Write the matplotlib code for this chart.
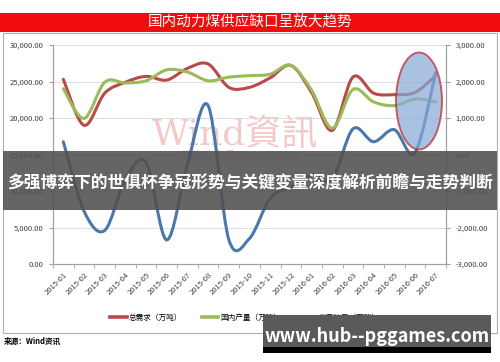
import numpy as np
import matplotlib
matplotlib.use("Agg")
import matplotlib.pyplot as plt
from matplotlib.path import Path
from matplotlib.patches import PathPatch, Rectangle, Ellipse
from matplotlib.lines import Line2D

plt.rcParams['font.family'] = ['Noto Sans CJK SC', 'DejaVu Sans']

months = ["2015-01", "2015-02", "2015-03", "2015-04", "2015-05", "2015-06",
          "2015-07", "2015-08", "2015-09", "2015-10", "2015-11", "2015-12",
          "2016-01", "2016-02", "2016-03", "2016-04", "2016-05", "2016-06",
          "2016-07"]
demand = [25300, 19000, 23400, 24900, 25700, 25200, 26800, 27400, 24200, 24200,
          25500, 27200, 23500, 18300, 25600, 23400, 23200, 23500, 25800]
output = [24000, 19950, 24900, 24800, 25100, 26600, 26300, 25100, 25600, 25800,
          26000, 27200, 23800, 18600, 23900, 22200, 21700, 22600, 22200]
gap = [350, -1550, -2080, -680, -220, -2340, -270, 1340, -2330, -2300,
       -1200, -900, -570, -680, 700, 350, 680, 50, 2240]

left_ticks = [0, 5000, 10000, 15000, 20000, 25000, 30000]
right_ticks = [-3000, -2000, -1000, 0, 1000, 2000, 3000]
legend_labels = ["总需求（万吨）", "国内产量（万吨）", "供需缺口（万吨）"]
colors = ["#b84a47", "#9bbb59", "#4a78ad"]


def smooth_path(xs, ys):
    # Excel-like smoothed line as cubic bezier segments
    pts = np.column_stack([xs, ys]).astype(float)
    verts = [pts[0]]
    codes = [Path.MOVETO]
    n = len(pts)
    for i in range(n - 1):
        p0 = pts[i - 1] if i > 0 else pts[i]
        p1 = pts[i]
        p2 = pts[i + 1]
        p3 = pts[i + 2] if i + 2 < n else pts[i + 1]
        c1 = p1 + (p2 - p0) / 6.0
        c2 = p2 - (p3 - p1) / 6.0
        verts += [c1, c2, p2]
        codes += [Path.CURVE4] * 3
    return Path(verts, codes)


fig = plt.figure(figsize=(5.0, 3.62), dpi=100)
fig.patch.set_facecolor("white")

# red title banner
fig.patches.append(Rectangle((0, 1 - 32 / 362), 1, 19 / 362, transform=fig.transFigure,
                             facecolor="#f20d0d", edgecolor="none", zorder=-2))
fig.text(0.5, 1 - 22.5 / 362, "国内动力煤供应缺口呈放大趋势", color="white",
         fontsize=10.5, ha="center", va="center")
# chart frame
fig.patches.append(Rectangle((3 / 500, 1 - 333 / 362), 494 / 500, 300 / 362,
                             transform=fig.transFigure, facecolor="white",
                             edgecolor="#b0b0b0", lw=0.8, zorder=-2))

# watermark
fig.text(235 / 500, 1 - 135 / 362, "Wind資訊", color="#f3c9c9", fontsize=26,
         ha="center", va="center", family=["DejaVu Serif", "Noto Sans CJK SC"], zorder=-1)
fig.text(240 / 500, 1 - 156 / 362, "微信公众号ID:windzxsh", color="#e8c0c0", fontsize=8,
         ha="center", va="center", zorder=-1)

ax = fig.add_axes([53 / 500, 1 - 264 / 362, 393 / 500, 219 / 362])
ax2 = ax.twinx()
ax.set_zorder(2)
ax2.set_zorder(3)
ax.patch.set_visible(False)
ax2.patch.set_visible(False)
x = np.arange(len(months))

ax.add_patch(PathPatch(smooth_path(x, demand), facecolor="none", edgecolor=colors[0],
                       lw=2.2, capstyle="round", zorder=3))
ax.add_patch(PathPatch(smooth_path(x, output), facecolor="none", edgecolor=colors[1],
                       lw=2.2, capstyle="round", zorder=3))
ax2.add_patch(PathPatch(smooth_path(x, gap), facecolor="none", edgecolor=colors[2],
                        lw=2.2, capstyle="round", zorder=3))

ax.set_xlim(-0.5, len(months) - 0.5)
ax.set_ylim(0, 30000)
ax2.set_ylim(-3000, 3000)
ax.set_yticks(left_ticks)
ax.set_yticklabels([f"{v:,.2f}" for v in left_ticks])
ax2.set_yticks(right_ticks)
ax2.set_yticklabels([f"{v:,.2f}" for v in right_ticks])
ax.set_xticks(x)
ax.set_xticklabels(months, rotation=45, ha="right", rotation_mode="anchor")
ax.set_xticks(np.arange(len(months) + 1) - 0.5, minor=True)
ax.tick_params(axis="x", which="major", length=0, labelsize=5.5, colors="#404040", pad=5)
ax.tick_params(axis="x", which="minor", length=3, color="#a0a0a0")
ax.tick_params(axis="y", length=3, labelsize=5.5, colors="#404040", color="#a0a0a0", pad=4)
ax2.tick_params(axis="y", length=3, labelsize=5.5, colors="#404040", color="#a0a0a0", pad=4)
ax.grid(axis="y", color="#d9d9d9", lw=0.6)
ax.set_axisbelow(True)
for a in (ax, ax2):
    a.spines["top"].set_visible(False)
    for s in ("left", "right", "bottom"):
        a.spines[s].set_color("#a0a0a0")
        a.spines[s].set_linewidth(0.8)

# highlight ellipse
fig.patches.append(Ellipse((419 / 500, 1 - 101 / 362), 46 / 500, 97 / 362,
                           transform=fig.transFigure, facecolor="#87a9d6", alpha=0.7,
                           edgecolor="#c0202a", lw=1.4, zorder=5))

# legend
handles = [Line2D([], [], color=c, lw=2.6) for c in colors]
fig.legend(handles, legend_labels, loc="center", bbox_to_anchor=(0.49, 1 - 318 / 362),
           ncol=3, frameon=False, fontsize=5.5, handlelength=2.2, columnspacing=2.6,
           handletextpad=0.2)

fig.text(4 / 500, 1 - 341 / 362, "来源：Wind资讯", fontsize=5.5, color="black",
         ha="left", va="center", fontweight="bold")

# overlay band with headline
fig.patches.append(Rectangle((3 / 500, 1 - 210 / 362), 494 / 500, 59 / 362,
                             transform=fig.transFigure, facecolor="#505050", alpha=0.88,
                             edgecolor="none", zorder=10))
fig.text(0.5, 1 - 183 / 362, "多强博弈下的世俱杯争冠形势与关键变量深度解析前瞻与走势判断",
         color="white", fontsize=12.1, fontweight="bold", ha="center", va="center", zorder=11)

# bottom-right site box
fig.patches.append(Rectangle((263 / 500, 1 - 347 / 362), 228 / 500, 32 / 362,
                             transform=fig.transFigure, facecolor="#5a5a5a",
                             edgecolor="none", zorder=10))
fig.patches.append(Rectangle((263 / 500, 1 - 353 / 362), 228 / 500, 6 / 362,
                             transform=fig.transFigure, facecolor="#000000",
                             edgecolor="none", zorder=10))
fig.text(377 / 500, 1 - 337 / 362, "www.hub--pggames.com", color="white", fontsize=13,
         fontweight="bold", ha="center", va="center", zorder=11)

fig.savefig("out.png", dpi=100)
